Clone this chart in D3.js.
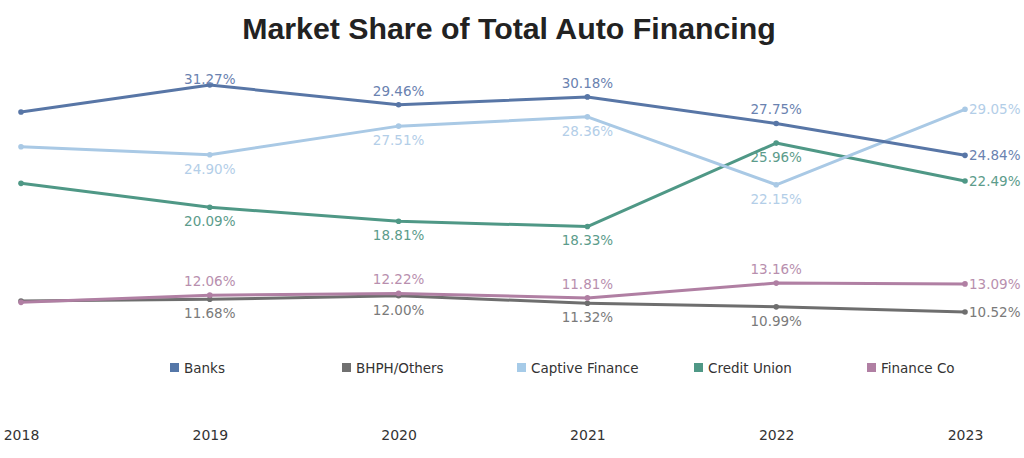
<!DOCTYPE html>
<html>
<head>
<meta charset="utf-8">
<script src="https://cdn.jsdelivr.net/npm/d3@7"></script>
<style>
  body { margin: 0; background: #fff; }
  svg { display: block; }
</style>
</head>
<body>
<div class="chart"></div>
<script>
// data
let years = ['2018', '2019', '2020', '2021', '2022', '2023'];
let banks = [28.80, 31.27, 29.46, 30.18, 27.75, 24.84];
let bhph = [11.53, 11.68, 12.00, 11.32, 10.99, 10.52];
let captive = [25.63, 24.90, 27.51, 28.36, 22.15, 29.05];
let creditUnion = [22.28, 20.09, 18.81, 18.33, 25.96, 22.49];
let financeCo = [11.40, 12.06, 12.22, 11.81, 13.16, 13.09];
let seriesNames = ['Banks', 'BHPH/Others', 'Captive Finance', 'Credit Union', 'Finance Co'];

let w = 1024;
let h = 458;

let series = [
    { name: 'Banks', values: banks, line: '#5876a6', label: '#6a82b0', pos: 'above' },
    { name: 'BHPH/Others', values: bhph, line: '#6e6e6e', label: '#7a7a7a', pos: 'below' },
    { name: 'Captive Finance', values: captive, line: '#a9c9e5', label: '#b3cee8', pos: 'below' },
    { name: 'Credit Union', values: creditUnion, line: '#4f9886', label: '#5c9c8b', pos: 'below' },
    { name: 'Finance Co', values: financeCo, line: '#b07fa3', label: '#b88fae', pos: 'above' }
];
let legendColors = ['#5577a8', '#707070', '#a6cbe8', '#4f9886', '#b07fa3'];

let svg = d3.select('.chart')
    .append('svg')
    .attr('width', w)
    .attr('height', h);

svg.append('text')
    .attr('x', 509)
    .attr('y', 39)
    .attr('text-anchor', 'middle')
    .style('font-family', 'Liberation Sans, Arial, sans-serif')
    .style('font-weight', 'bold')
    .style('font-size', '30.3px')
    .style('fill', '#222')
    .text('Market Share of Total Auto Financing');

let xScale = d3.scalePoint()
    .domain(years)
    .range([21, 965]);

let yScale = d3.scaleLinear()
    .domain([10.52, 31.27])
    .range([312, 85]);

let line = d3.line()
    .x((d, i) => xScale(years[i]))
    .y(d => yScale(d));

// draw lines, bottom series first
let order = [1, 4, 3, 2, 0];
order.forEach(k => {
    let s = series[k];
    let g = svg.append('g');

    g.append('path')
        .datum(s.values)
        .attr('d', line)
        .attr('fill', 'none')
        .attr('stroke', s.line)
        .attr('stroke-width', 3)
        .attr('stroke-linejoin', 'round');

    g.selectAll('circle')
        .data(s.values)
        .enter()
        .append('circle')
        .attr('cx', (d, i) => xScale(years[i]))
        .attr('cy', d => yScale(d))
        .attr('r', 2.8)
        .attr('fill', s.line);
});

// value labels
series.forEach(s => {
    svg.append('g')
        .selectAll('text')
        .data(s.values)
        .enter()
        .filter((d, i) => i > 0)
        .append('text')
        .attr('x', (d, i) => {
            let idx = i + 1;
            return idx === years.length - 1 ? xScale(years[idx]) + 4 : xScale(years[idx]);
        })
        .attr('y', (d, i) => {
            let idx = i + 1;
            let y = yScale(d);
            if (idx === years.length - 1) return y;
            if (s.pos === 'above') return Math.max(y - 14, 79);
            return y + 14;
        })
        .attr('dy', '0.36em')
        .attr('text-anchor', (d, i) => i + 1 === years.length - 1 ? 'start' : 'middle')
        .style('font-family', 'DejaVu Sans, Verdana, sans-serif')
        .style('font-size', '13.5px')
        .style('fill', s.label)
        .text(d => d.toFixed(2) + '%');
});

// legend
let legendX = [170, 342, 517, 694, 867];
let legend = svg.append('g');
seriesNames.forEach((name, i) => {
    legend.append('rect')
        .attr('x', legendX[i])
        .attr('y', 363)
        .attr('width', 9)
        .attr('height', 9)
        .attr('fill', legendColors[i]);
    legend.append('text')
        .attr('x', legendX[i] + 14)
        .attr('y', 368)
        .attr('dy', '0.36em')
        .style('font-family', 'DejaVu Sans, Verdana, sans-serif')
        .style('font-size', '13.5px')
        .style('fill', '#333')
        .text(name);
});

// x axis
let xAxis = d3.axisBottom(xScale).tickSize(0).tickPadding(0);
let ax = svg.append('g')
    .attr('transform', 'translate(0, 430)')
    .call(xAxis);
ax.select('.domain').remove();
ax.selectAll('text')
    .style('font-family', 'DejaVu Sans, Verdana, sans-serif')
    .style('font-size', '14px')
    .style('fill', '#333');
</script>
</body>
</html>
